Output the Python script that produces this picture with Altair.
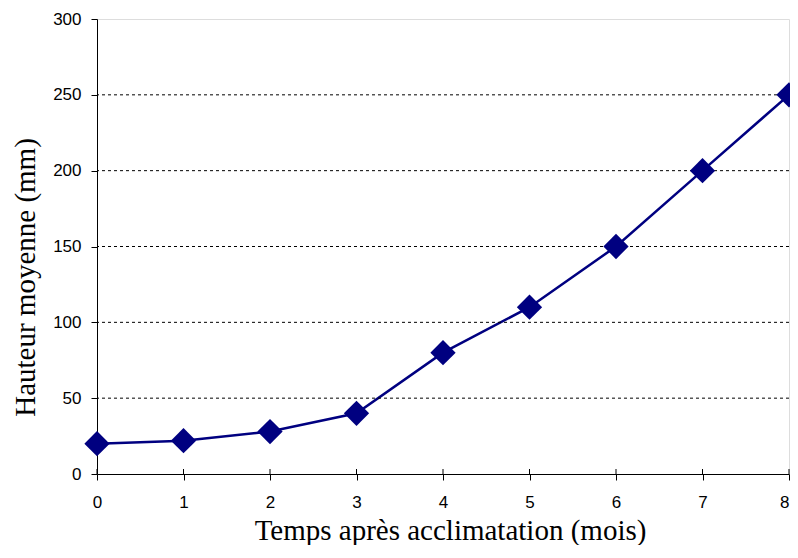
import altair as alt
import pandas as pd

months = [0, 1, 2, 3, 4, 5, 6, 7, 8]
heights = [20, 22, 28, 40, 80, 110, 150, 200, 250]
grid_values = [50, 100, 150, 200, 250]
y_tick_values = [0, 50, 100, 150, 200, 250, 300]

W, H = 692, 455

df = pd.DataFrame({"mois": months, "hauteur": heights})
grid_df = pd.DataFrame({"hauteur": grid_values})
tick_df = pd.DataFrame({"mois": months})

xscale = alt.Scale(domain=[0, 8], nice=False, zero=False)
yscale = alt.Scale(domain=[0, 300], nice=False)

NAVY = "#000080"

xaxis = alt.Axis(
    values=months, format="d", grid=False,
    labelFont="Liberation Sans", labelFontSize=17, labelColor="black",
    labelPadding=14, labelFlush=False, labelOverlap=False, labelBound=False,
    labelAlign={"condition": {"test": "datum.value === 8", "value": "right"}, "value": "center"},
    tickSize=6, tickColor="black", domainColor="black", domainWidth=1,
    title="Temps après acclimatation (mois)",
    titleFont="Liberation Serif", titleFontSize=29, titleFontWeight="normal",
    titleColor="black", titleX=353, titleY=65, titleBaseline="alphabetic",
    titleAlign="center",
)
yaxis = alt.Axis(
    values=y_tick_values, format="d", grid=False,
    labelFont="Liberation Sans", labelFontSize=17, labelColor="black",
    labelPadding=10, labelFlush=False, labelOverlap=False,
    tickSize=6, tickColor="black", domainColor="black", domainWidth=1,
    title="Hauteur moyenne (mm)",
    titleFont="Liberation Serif", titleFontSize=29, titleFontWeight="normal",
    titleColor="black", titleX=-72, titleY=258, titleAngle=-90,
    titleBaseline="middle", titleAlign="center",
)

X = alt.X("mois:Q", scale=xscale, axis=xaxis)
Y = alt.Y("hauteur:Q", scale=yscale, axis=yaxis)

line = alt.Chart(df).mark_line(color=NAVY, strokeWidth=2.5).encode(x=X, y=Y)

grid = alt.Chart(grid_df).mark_rule(color="black", strokeDash=[3, 3], strokeWidth=1).encode(y=Y)

upticks = alt.Chart(tick_df).mark_rule(color="black", strokeWidth=1).encode(
    x=X,
    y=alt.value(H - 5),
    y2=alt.value(H),
)

points = alt.Chart(df).mark_point(shape="diamond", filled=True, size=640, color=NAVY, opacity=1).encode(x=X, y=Y)

chart = alt.layer(line, grid, upticks, points).properties(
    width=W, height=H,
    autosize=alt.AutoSizeParams(type="none"),
    padding={"left": 89, "top": 11, "right": 1, "bottom": 71},
).configure_view(stroke="#a0a0a0", strokeWidth=1).configure(background="white")

chart.save("out.html", embed_options={"renderer": "svg", "actions": False})
